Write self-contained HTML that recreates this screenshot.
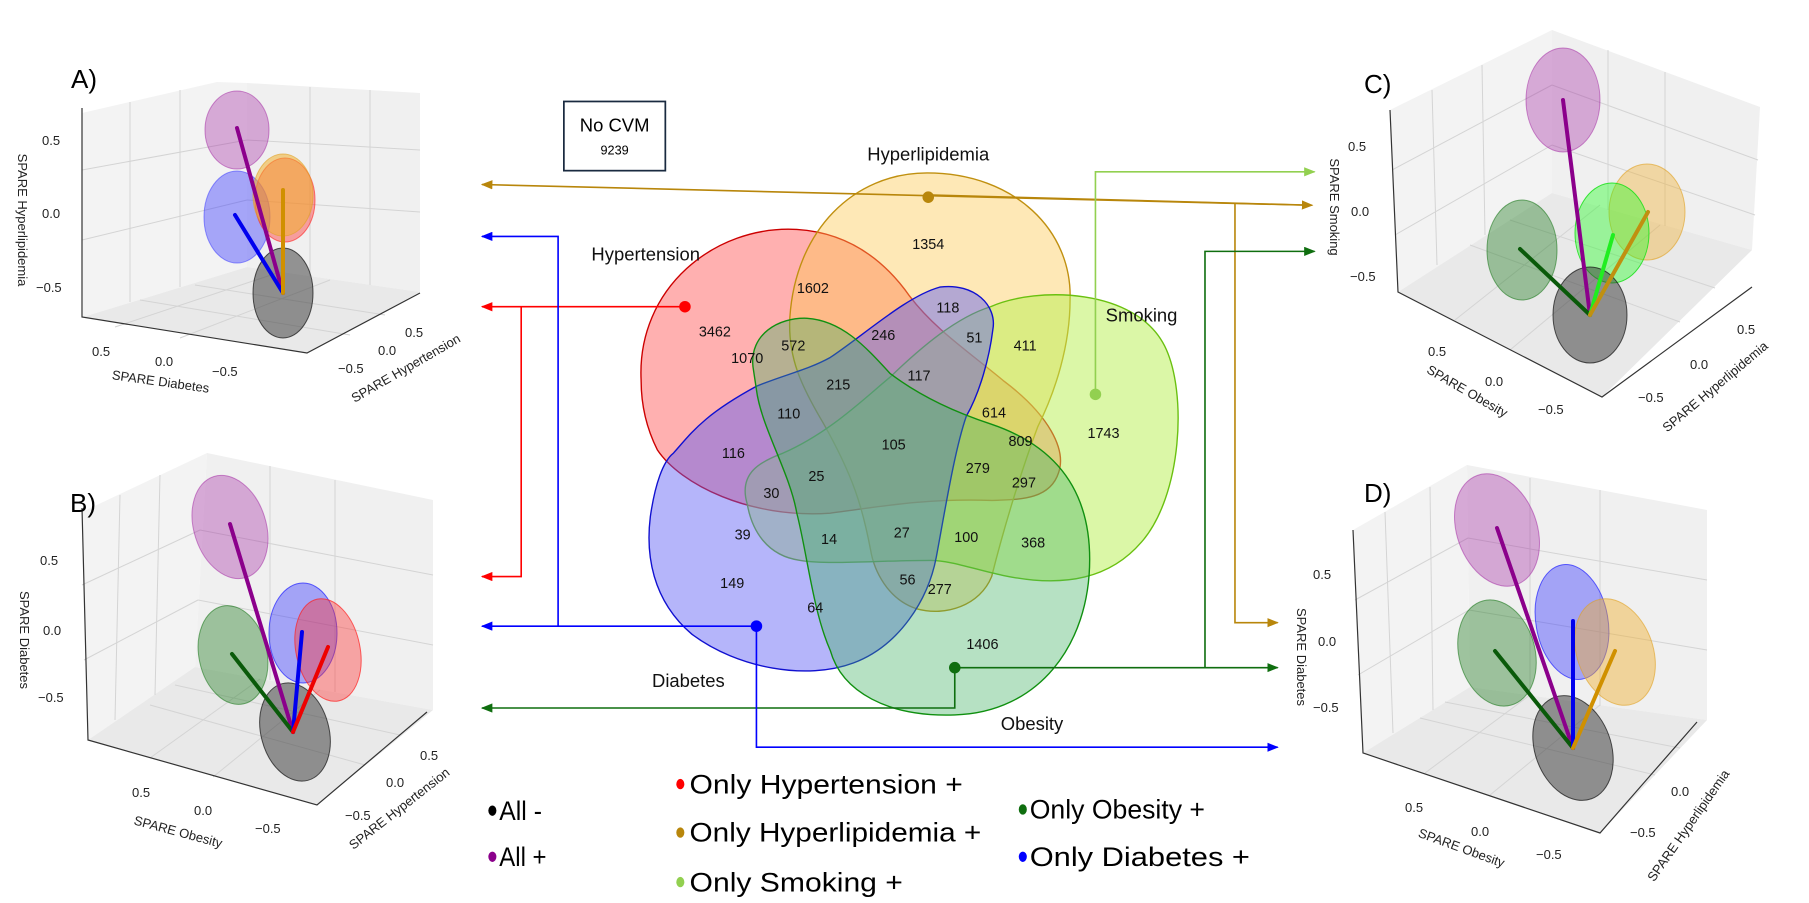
<!DOCTYPE html>
<html><head><meta charset="utf-8"><style>
html,body{margin:0;padding:0;background:#fff}
svg{display:block}
text{font-family:"Liberation Sans",sans-serif}
</style></head><body>
<svg width="1809" height="903" viewBox="0 0 1809 903" xmlns="http://www.w3.org/2000/svg">
<defs>
<marker id="mO" markerWidth="10" markerHeight="8" refX="9" refY="4" orient="auto" markerUnits="userSpaceOnUse"><path d="M0,0 L10,4 L0,8 Z" fill="#b8860b"/></marker>
<marker id="mL" markerWidth="10" markerHeight="8" refX="9" refY="4" orient="auto" markerUnits="userSpaceOnUse"><path d="M0,0 L10,4 L0,8 Z" fill="#92d050"/></marker>
<marker id="mG" markerWidth="10" markerHeight="8" refX="9" refY="4" orient="auto" markerUnits="userSpaceOnUse"><path d="M0,0 L10,4 L0,8 Z" fill="#0f6e0f"/></marker>
<marker id="mR" markerWidth="10" markerHeight="8" refX="9" refY="4" orient="auto" markerUnits="userSpaceOnUse"><path d="M0,0 L10,4 L0,8 Z" fill="#ff0000"/></marker>
<marker id="mB" markerWidth="10" markerHeight="8" refX="9" refY="4" orient="auto" markerUnits="userSpaceOnUse"><path d="M0,0 L10,4 L0,8 Z" fill="#0000ff"/></marker>
</defs>

<!-- ===== Panel A ===== -->
<g>
<polygon points="82,113 217,82 247,83 247,267 83,317" fill="#f3f3f3"/>
<polygon points="247,83 420,93 420,292 247,267" fill="#f0f0f0"/>
<polygon points="83,317 247,267 420,292 307,353" fill="#e9e9e9"/>
<g stroke="#d4d4d4" stroke-width="1" fill="none">
<line x1="82" y1="170" x2="247" y2="140"/><line x1="82" y1="240" x2="247" y2="200"/>
<line x1="247" y1="140" x2="420" y2="150"/><line x1="247" y1="200" x2="420" y2="212"/>
<line x1="130" y1="102" x2="130" y2="302"/><line x1="180" y1="90" x2="180" y2="287"/>
<line x1="310" y1="87" x2="310" y2="276"/><line x1="370" y1="90" x2="370" y2="285"/>
<line x1="115" y1="327" x2="280" y2="272"/><line x1="180" y1="338" x2="330" y2="280"/>
<line x1="140" y1="300" x2="350" y2="335"/><line x1="195" y1="285" x2="385" y2="315"/>
</g>
<polyline points="82,108 82,317 307,353 420,293" fill="none" stroke="#333" stroke-width="1.2"/>
<ellipse cx="237" cy="130" rx="32" ry="39" fill="#a020a0" fill-opacity="0.35" stroke="#a020a0" stroke-opacity="0.5"/>
<ellipse cx="237" cy="217" rx="33" ry="46" fill="#3030ff" fill-opacity="0.4" stroke="#3030ff" stroke-opacity="0.5"/>
<ellipse cx="285" cy="200" rx="30" ry="42" fill="#ff2020" fill-opacity="0.4" stroke="#ff2020" stroke-opacity="0.6"/>
<ellipse cx="283" cy="195" rx="30" ry="41" fill="#f0b030" fill-opacity="0.55" stroke="#e0a020" stroke-opacity="0.6"/>
<ellipse cx="283" cy="293" rx="30" ry="45" fill="#333" fill-opacity="0.5" stroke="#111" stroke-opacity="0.7"/>
<g stroke-width="4" stroke-linecap="round">
<line x1="283" y1="293" x2="237" y2="128" stroke="#8b008b"/>
<line x1="283" y1="293" x2="235" y2="215" stroke="#0000ee"/>
<line x1="283" y1="293" x2="283" y2="190" stroke="#d09000"/>
</g>
<text x="71" y="88" font-size="26">A)</text>
<g font-size="13" fill="#222">
<text x="42" y="145">0.5</text><text x="42" y="218">0.0</text><text x="36" y="292">−0.5</text>
<text x="92" y="356">0.5</text><text x="155" y="366">0.0</text><text x="212" y="376">−0.5</text>
<text x="338" y="373">−0.5</text><text x="378" y="355">0.0</text><text x="405" y="337">0.5</text>
<text transform="translate(18,220) rotate(90)" text-anchor="middle">SPARE Hyperlipidemia</text>
<text transform="translate(160,386) rotate(8)" text-anchor="middle">SPARE Diabetes</text>
<text transform="translate(408,372) rotate(-30)" text-anchor="middle">SPARE Hypertension</text>
</g>
</g>

<!-- ===== Panel B ===== -->
<g>
<polygon points="82,512 207,453 195,667 88,740" fill="#f3f3f3"/>
<polygon points="207,453 433,500 433,710 195,667" fill="#f0f0f0"/>
<polygon points="88,740 195,667 433,710 317,805" fill="#e9e9e9"/>
<g stroke="#d4d4d4" stroke-width="1" fill="none">
<line x1="82" y1="585" x2="200" y2="530"/><line x1="84" y1="660" x2="198" y2="600"/>
<line x1="200" y1="530" x2="433" y2="575"/><line x1="198" y1="600" x2="433" y2="645"/>
<line x1="120" y1="495" x2="115" y2="720"/><line x1="160" y1="475" x2="155" y2="695"/>
<line x1="270" y1="466" x2="270" y2="680"/><line x1="335" y1="480" x2="335" y2="692"/>
<line x1="150" y1="758" x2="260" y2="679"/><line x1="213" y1="777" x2="320" y2="690"/>
<line x1="150" y1="705" x2="365" y2="765"/><line x1="175" y1="685" x2="400" y2="735"/>
</g>
<polyline points="82,508 88,740 317,805 427,712" fill="none" stroke="#333" stroke-width="1.2"/>
<ellipse cx="230" cy="527" rx="36" ry="53" transform="rotate(-18 230 527)" fill="#a020a0" fill-opacity="0.35" stroke="#a020a0" stroke-opacity="0.5"/>
<ellipse cx="233" cy="655" rx="34" ry="50" transform="rotate(-12 233 655)" fill="#1e7a1e" fill-opacity="0.4" stroke="#1e7a1e" stroke-opacity="0.6"/>
<ellipse cx="303" cy="633" rx="34" ry="50" fill="#3030ff" fill-opacity="0.4" stroke="#2020ff" stroke-opacity="0.7"/>
<ellipse cx="328" cy="650" rx="32" ry="52" transform="rotate(-12 328 650)" fill="#ff3030" fill-opacity="0.4" stroke="#ff2020" stroke-opacity="0.7"/>
<ellipse cx="295" cy="732" rx="34" ry="50" transform="rotate(-15 295 732)" fill="#333" fill-opacity="0.5" stroke="#111" stroke-opacity="0.7"/>
<g stroke-width="4" stroke-linecap="round">
<line x1="293" y1="732" x2="230" y2="524" stroke="#8b008b"/>
<line x1="293" y1="732" x2="232" y2="654" stroke="#0a5a0a"/>
<line x1="293" y1="732" x2="302" y2="632" stroke="#0000ee"/>
<line x1="293" y1="732" x2="328" y2="647" stroke="#ee0000"/>
</g>
<text x="70" y="512" font-size="26">B)</text>
<g font-size="13" fill="#222">
<text x="40" y="565">0.5</text><text x="43" y="635">0.0</text><text x="38" y="702">−0.5</text>
<text x="132" y="797">0.5</text><text x="194" y="815">0.0</text><text x="255" y="833">−0.5</text>
<text x="345" y="820">−0.5</text><text x="386" y="787">0.0</text><text x="420" y="760">0.5</text>
<text transform="translate(20,640) rotate(90)" text-anchor="middle">SPARE Diabetes</text>
<text transform="translate(177,836) rotate(15)" text-anchor="middle">SPARE Obesity</text>
<text transform="translate(402,812) rotate(-38)" text-anchor="middle">SPARE Hypertension</text>
</g>
</g>

<!-- ===== Panel C ===== -->
<g>
<polygon points="1390,110 1552,30 1552,193 1398,292" fill="#f3f3f3"/>
<polygon points="1552,30 1760,107 1752,250 1552,193" fill="#f0f0f0"/>
<polygon points="1398,292 1552,193 1752,250 1602,397" fill="#e9e9e9"/>
<g stroke="#d4d4d4" stroke-width="1" fill="none">
<line x1="1392" y1="170" x2="1552" y2="85"/><line x1="1395" y1="235" x2="1552" y2="145"/>
<line x1="1552" y1="85" x2="1758" y2="160"/><line x1="1552" y1="145" x2="1755" y2="215"/>
<line x1="1432" y1="90" x2="1437" y2="265"/><line x1="1482" y1="65" x2="1485" y2="235"/>
<line x1="1608" y1="50" x2="1608" y2="210"/><line x1="1665" y1="72" x2="1665" y2="226"/>
<line x1="1455" y1="320" x2="1600" y2="205"/><line x1="1510" y1="350" x2="1660" y2="225"/>
<line x1="1470" y1="245" x2="1680" y2="322"/><line x1="1510" y1="220" x2="1715" y2="288"/>
</g>
<polyline points="1390,110 1398,292 1602,397 1752,287" fill="none" stroke="#333" stroke-width="1.2"/>
<ellipse cx="1563" cy="100" rx="37" ry="52" fill="#a020a0" fill-opacity="0.35" stroke="#a020a0" stroke-opacity="0.5"/>
<ellipse cx="1522" cy="250" rx="35" ry="50" fill="#1e7a1e" fill-opacity="0.4" stroke="#1e7a1e" stroke-opacity="0.6"/>
<ellipse cx="1647" cy="212" rx="38" ry="48" fill="#f0b030" fill-opacity="0.4" stroke="#e0a020" stroke-opacity="0.6"/>
<ellipse cx="1612" cy="233" rx="37" ry="50" fill="#20ff20" fill-opacity="0.4" stroke="#10e010" stroke-opacity="0.8"/>
<ellipse cx="1590" cy="315" rx="37" ry="48" fill="#333" fill-opacity="0.5" stroke="#111" stroke-opacity="0.7"/>
<g stroke-width="4" stroke-linecap="round">
<line x1="1590" y1="315" x2="1563" y2="100" stroke="#8b008b"/>
<line x1="1590" y1="315" x2="1520" y2="249" stroke="#0a5a0a"/>
<line x1="1590" y1="315" x2="1613" y2="235" stroke="#20ee20"/>
<line x1="1590" y1="315" x2="1648" y2="212" stroke="#c09010"/>
</g>
<text x="1364" y="93" font-size="26">C)</text>
<g font-size="13" fill="#222">
<text x="1348" y="151">0.5</text><text x="1351" y="216">0.0</text><text x="1350" y="281">−0.5</text>
<text x="1428" y="356">0.5</text><text x="1485" y="386">0.0</text><text x="1538" y="414">−0.5</text>
<text x="1638" y="402">−0.5</text><text x="1690" y="369">0.0</text><text x="1737" y="334">0.5</text>
<text transform="translate(1330,207) rotate(90)" text-anchor="middle">SPARE Smoking</text>
<text transform="translate(1465,395) rotate(30)" text-anchor="middle">SPARE Obesity</text>
<text transform="translate(1718,390) rotate(-40)" text-anchor="middle">SPARE Hyperlipidemia</text>
</g>
</g>

<!-- ===== Panel D ===== -->
<g>
<polygon points="1353,530 1467,465 1470,687 1363,753" fill="#f3f3f3"/>
<polygon points="1467,465 1707,510 1707,720 1470,687" fill="#f0f0f0"/>
<polygon points="1363,753 1470,687 1707,720 1600,833" fill="#e9e9e9"/>
<g stroke="#d4d4d4" stroke-width="1" fill="none">
<line x1="1355" y1="600" x2="1468" y2="538"/><line x1="1358" y1="675" x2="1469" y2="610"/>
<line x1="1468" y1="538" x2="1707" y2="580"/><line x1="1469" y1="610" x2="1707" y2="650"/>
<line x1="1385" y1="512" x2="1393" y2="733"/><line x1="1430" y1="487" x2="1433" y2="710"/>
<line x1="1530" y1="478" x2="1530" y2="696"/><line x1="1600" y1="490" x2="1600" y2="706"/>
<line x1="1425" y1="773" x2="1530" y2="695"/><line x1="1490" y1="795" x2="1600" y2="705"/>
<line x1="1420" y1="718" x2="1655" y2="775"/><line x1="1445" y1="702" x2="1680" y2="748"/>
</g>
<polyline points="1353,530 1363,753 1600,833 1697,722" fill="none" stroke="#333" stroke-width="1.2"/>
<ellipse cx="1497" cy="530" rx="40" ry="58" transform="rotate(-20 1497 530)" fill="#a020a0" fill-opacity="0.35" stroke="#a020a0" stroke-opacity="0.5"/>
<ellipse cx="1497" cy="653" rx="38" ry="54" transform="rotate(-15 1497 653)" fill="#1e7a1e" fill-opacity="0.4" stroke="#1e7a1e" stroke-opacity="0.6"/>
<ellipse cx="1572" cy="622" rx="36" ry="58" transform="rotate(-10 1572 622)" fill="#3030ff" fill-opacity="0.4" stroke="#2020ff" stroke-opacity="0.7"/>
<ellipse cx="1615" cy="652" rx="38" ry="55" transform="rotate(-20 1615 652)" fill="#f0b030" fill-opacity="0.45" stroke="#e0a020" stroke-opacity="0.6"/>
<ellipse cx="1573" cy="748" rx="38" ry="54" transform="rotate(-20 1573 748)" fill="#333" fill-opacity="0.5" stroke="#111" stroke-opacity="0.7"/>
<g stroke-width="4" stroke-linecap="round">
<line x1="1573" y1="748" x2="1497" y2="528" stroke="#8b008b"/>
<line x1="1573" y1="748" x2="1495" y2="651" stroke="#0a5a0a"/>
<line x1="1573" y1="748" x2="1573" y2="621" stroke="#0000ee"/>
<line x1="1573" y1="748" x2="1615" y2="651" stroke="#d09000"/>
</g>
<text x="1364" y="502" font-size="26">D)</text>
<g font-size="13" fill="#222">
<text x="1313" y="579">0.5</text><text x="1318" y="646">0.0</text><text x="1313" y="712">−0.5</text>
<text x="1405" y="812">0.5</text><text x="1471" y="836">0.0</text><text x="1536" y="859">−0.5</text>
<text x="1630" y="837">−0.5</text><text x="1671" y="796">0.0</text>
<text transform="translate(1297,657) rotate(90)" text-anchor="middle">SPARE Diabetes</text>
<text transform="translate(1460,852) rotate(20)" text-anchor="middle">SPARE Obesity</text>
<text transform="translate(1692,828) rotate(-55)" text-anchor="middle">SPARE Hyperlipidemia</text>
</g>
</g>

<!-- ===== Venn + connectors (overview coords) ===== -->
<g transform="scale(1.1531)">
<rect x="489" y="88" width="88" height="60" fill="#fff" stroke="#1a2a40" stroke-width="1.5"/>
<text x="533" y="114" font-size="16" text-anchor="middle">No CVM</text>
<text x="533" y="134" font-size="11" text-anchor="middle">9239</text>

<g stroke-width="1.2">
<path d="M556,330 C552,250 620,195 691,199 C740,202 770,230 789,257 C810,285 840,305 870,330 C910,360 925,390 918,410 C910,435 880,433 860,434 C800,432 760,440 720,445 C650,450 590,420 570,390 C560,370 556,350 556,330 Z" fill="#ff5050" fill-opacity="0.45" stroke="#cc0000"/>
<path d="M685,275 C690,200 740,150 804,150 C880,150 930,200 928,260 C928,300 915,340 900,370 C885,410 870,460 860,500 C850,525 820,535 795,528 C770,520 758,495 755,477 C748,440 740,413 714,367 C695,335 683,310 685,275 Z" fill="#fcc850" fill-opacity="0.42" stroke="#c09010"/>
<path d="M648,437 C640,410 660,400 679,393 C720,375 750,345 772,327 C800,300 830,275 859,266 C900,248 985,250 1010,300 C1030,340 1025,430 990,470 C960,505 920,505 896,503 C860,500 830,486 807,486 C760,486 720,490 694,486 C665,482 652,460 648,437 Z" fill="#b8f050" fill-opacity="0.5" stroke="#6ac010"/>
<path d="M815,249 C845,245 865,265 861,286 C858,310 850,340 838,361 C828,390 820,440 812,483 C805,520 780,560 740,575 C700,590 640,580 600,550 C565,520 560,480 564,448 C568,420 575,400 584,393 C600,375 610,360 656,335 C680,325 700,321 720,310 C750,290 786,257 815,249 Z" fill="#5a5af5" fill-opacity="0.45" stroke="#1010d0"/>
<path d="M653,318 C650,290 675,275 700,276 C730,278 750,300 772,324 C800,345 830,358 860,368 C910,385 945,420 945,485 C945,560 900,618 828,620 C770,622 730,600 720,564 C705,530 700,480 691,445 C685,410 660,370 656,338 Z" fill="#40b060" fill-opacity="0.38" stroke="#109010"/>
</g>

<g font-size="16" fill="#111">
<text x="560" y="226" text-anchor="middle">Hypertension</text>
<text x="805" y="139" text-anchor="middle">Hyperlipidemia</text>
<text x="990" y="279" text-anchor="middle">Smoking</text>
<text x="597" y="596" text-anchor="middle">Diabetes</text>
<text x="895" y="633" text-anchor="middle">Obesity</text>
</g>
<g font-size="12.5" fill="#111" text-anchor="middle">
<text x="620" y="292">3462</text><text x="705" y="254">1602</text><text x="805" y="216">1354</text>
<text x="822" y="271">118</text><text x="766" y="295">246</text><text x="845" y="297">51</text>
<text x="688" y="304">572</text><text x="648" y="315">1070</text><text x="727" y="338">215</text>
<text x="797" y="330">117</text><text x="889" y="304">411</text><text x="862" y="362">614</text>
<text x="957" y="380">1743</text><text x="684" y="363">110</text><text x="775" y="390">105</text>
<text x="636" y="397">116</text><text x="885" y="387">809</text><text x="848" y="410">279</text>
<text x="888" y="423">297</text><text x="708" y="417">25</text><text x="669" y="432">30</text>
<text x="644" y="468">39</text><text x="719" y="472">14</text><text x="782" y="466">27</text>
<text x="838" y="470">100</text><text x="896" y="475">368</text><text x="635" y="510">149</text>
<text x="787" y="507">56</text><text x="815" y="515">277</text><text x="707" y="531">64</text>
<text x="852" y="563">1406</text>
</g>

<g fill="none" stroke-width="1.4">
<line x1="1136" y1="178" x2="418" y2="160" stroke="#b8860b" marker-end="url(#mO)"/>
<line x1="805" y1="169" x2="1138" y2="178" stroke="#b8860b" marker-end="url(#mO)"/>
<polyline points="1071,176 1071,540 1108,540" stroke="#b8860b" marker-end="url(#mO)"/>
<polyline points="950,342 950,149 1140,149" stroke="#92d050" marker-end="url(#mL)"/>
<polyline points="828,579 1108,579" stroke="#0f6e0f" marker-end="url(#mG)"/>
<polyline points="1045,579 1045,218 1140,218" stroke="#0f6e0f" marker-end="url(#mG)"/>
<polyline points="828,579 828,614 418,614" stroke="#0f6e0f" marker-end="url(#mG)"/>
<polyline points="594,266 418,266" stroke="#ff0000" marker-end="url(#mR)"/>
<polyline points="452,266 452,500 418,500" stroke="#ff0000" marker-end="url(#mR)"/>
<polyline points="656,543 418,543" stroke="#0000ff" marker-end="url(#mB)"/>
<polyline points="484,543 484,205 418,205" stroke="#0000ff" marker-end="url(#mB)"/>
<polyline points="656,543 656,648 1108,648" stroke="#0000ff" marker-end="url(#mB)"/>
</g>
<circle cx="805" cy="171" r="5" fill="#b8860b"/>
<circle cx="950" cy="342" r="5" fill="#92d050"/>
<circle cx="828" cy="579" r="5" fill="#0f6e0f"/>
<circle cx="594" cy="266" r="5" fill="#ff0000"/>
<circle cx="656" cy="543" r="5" fill="#0000ff"/>

<g font-size="23" fill="#000">
<ellipse cx="590" cy="680" rx="3.5" ry="4.5" fill="#ff0000"/>
<text x="598" y="688" textLength="237" lengthAdjust="spacingAndGlyphs">Only Hypertension +</text>
<ellipse cx="590" cy="722" rx="3.5" ry="4.5" fill="#b8860b"/>
<text x="598" y="730" textLength="253" lengthAdjust="spacingAndGlyphs">Only Hyperlipidemia +</text>
<ellipse cx="590" cy="765" rx="3.5" ry="4.5" fill="#92d050"/>
<text x="598" y="773" textLength="185" lengthAdjust="spacingAndGlyphs">Only Smoking +</text>
<ellipse cx="427" cy="703" rx="3.5" ry="4.5" fill="#000"/>
<text x="433" y="711" textLength="37" lengthAdjust="spacingAndGlyphs">All -</text>
<ellipse cx="427" cy="743" rx="3.5" ry="4.5" fill="#8b008b"/>
<text x="433" y="751" textLength="41" lengthAdjust="spacingAndGlyphs">All +</text>
<ellipse cx="887" cy="702" rx="3.5" ry="4.5" fill="#0f6e0f"/>
<text x="893" y="710" textLength="152" lengthAdjust="spacingAndGlyphs">Only Obesity +</text>
<ellipse cx="887" cy="743" rx="3.5" ry="4.5" fill="#0000ff"/>
<text x="893" y="751" textLength="191" lengthAdjust="spacingAndGlyphs">Only Diabetes +</text>
</g>
</g>
</svg>
</body></html>
